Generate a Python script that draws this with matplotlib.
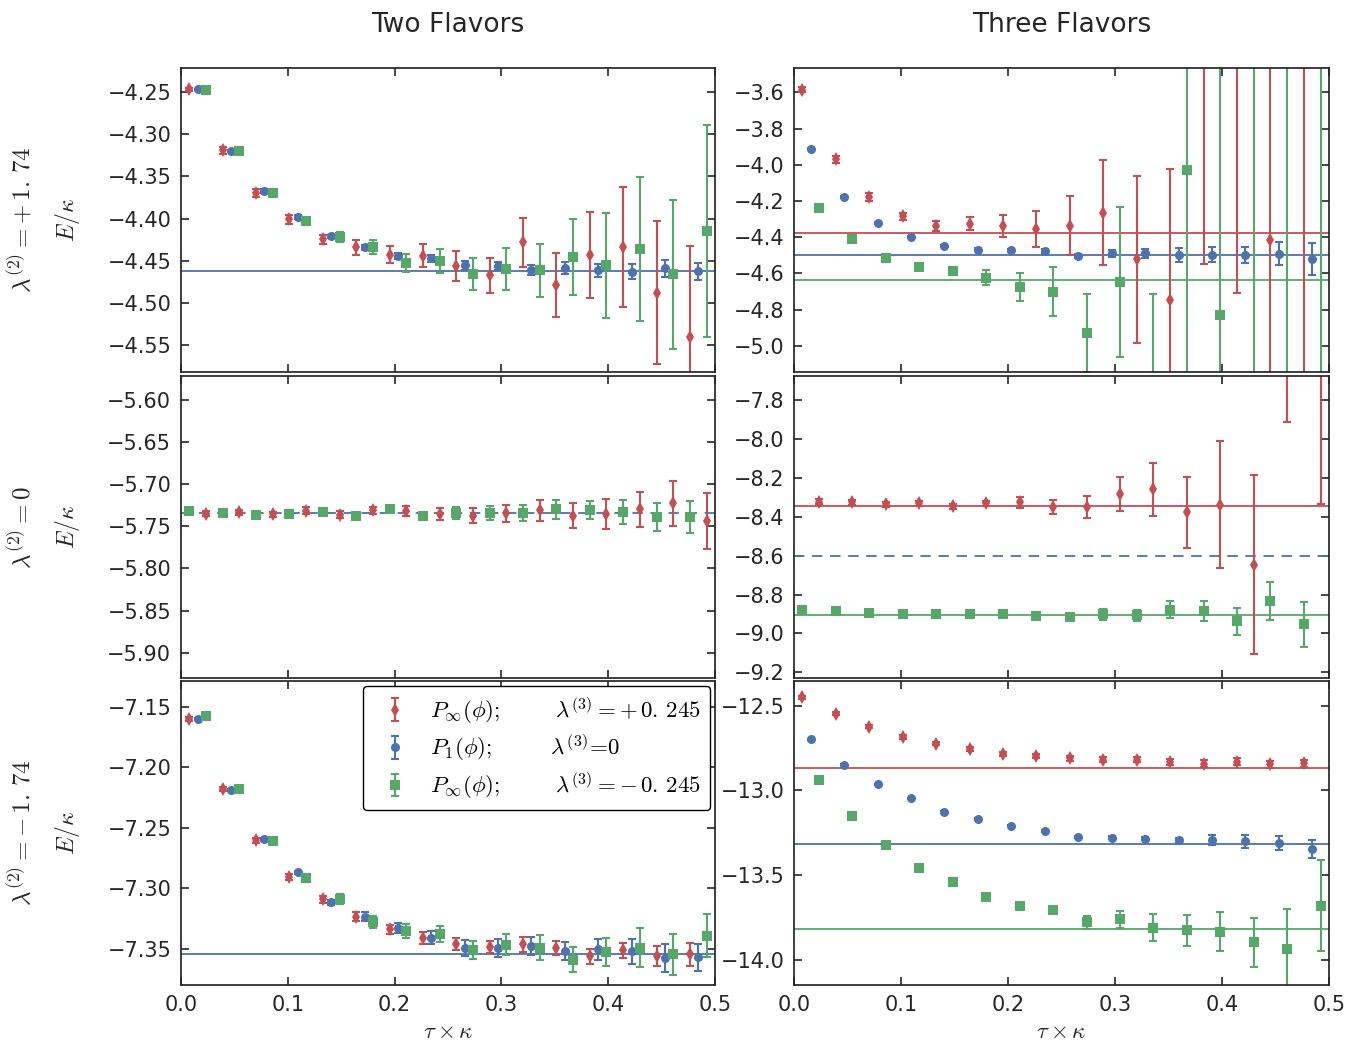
import numpy as np
import matplotlib
matplotlib.use('Agg')
import matplotlib.pyplot as plt

plt.rcParams['mathtext.fontset'] = 'cm'
plt.rcParams['font.family'] = ['DejaVu Sans']
plt.rcParams['lines.scale_dashes'] = False

RED = '#C44E52'
BLUE = '#4C72B0'
GREEN = '#55A868'
DARK = '#262626'

# ---------------- data ----------------
tau = [0.0, 0.03125, 0.0625, 0.09375, 0.125, 0.15625, 0.1875, 0.21875,
       0.25, 0.28125, 0.3125, 0.34375, 0.375, 0.40625, 0.4375, 0.46875]
shift_first = 0.0078125
shift_mid = 0.015625
shift_last = 0.0234375

col_titles = ['Two Flavors', 'Three Flavors']
row_labels = [r'$\lambda^{(2)} = +\,1.\,74$', r'$\lambda^{(2)} = 0$', r'$\lambda^{(2)} = -\,1.\,74$']
legend_labels = [r'$P_\infty(\phi);\qquad\;\;\lambda^{(3)} = +\,0.\,245$',
                 r'$P_1(\phi);\qquad\;\;\,\lambda^{(3)}\!=\!0$',
                 r'$P_\infty(\phi);\qquad\;\;\lambda^{(3)} = -\,0.\,245$']
x_ticks = [0.0, 0.1, 0.2, 0.3, 0.4, 0.5]

# two flavors, lambda2 = +1.74
tl_red_y = [-4.247, -4.319, -4.370, -4.401, -4.4245, -4.434, -4.443, -4.444,
            -4.456, -4.4675, -4.428, -4.479, -4.443, -4.434, -4.488, -4.540]
tl_red_e = [0.002, 0.004, 0.005, 0.005, 0.0055, 0.009, 0.010, 0.014,
            0.0175, 0.021, 0.029, 0.038, 0.051, 0.071, 0.085, 0.107]
tl_blue_y = [-4.247, -4.320, -4.3676, -4.398, -4.421, -4.434, -4.4446, -4.447,
             -4.4556, -4.4564, -4.4608, -4.4588, -4.4616, -4.4632, -4.4588, -4.4628]
tl_blue_e = [0.001, 0.001, 0.002, 0.002, 0.002, 0.003, 0.004, 0.004,
             0.005, 0.005, 0.006, 0.007, 0.008, 0.009, 0.010, 0.010]
tl_green_y = [-4.248, -4.3203, -4.370, -4.4032, -4.422, -4.434, -4.4529, -4.4505,
              -4.4663, -4.460, -4.4616, -4.446, -4.4556, -4.436, -4.4663, -4.415]
tl_green_e = [0.001, 0.002, 0.003, 0.004, 0.006, 0.0085, 0.011, 0.014,
              0.019, 0.025, 0.031, 0.045, 0.062, 0.085, 0.088, 0.126]
tl_fit_blue = -4.4624
tl_ylim = (-4.582, -4.2216)
tl_yticks = [-4.25, -4.30, -4.35, -4.40, -4.45, -4.50, -4.55]

# three flavors, lambda2 = +1.74
tr_red_y = [-3.585, -3.970, -4.178, -4.285, -4.340, -4.326, -4.340, -4.353,
            -4.337, -4.265, -4.521, -4.748, -3.30, -3.20, -4.416, -2.80]
tr_red_e = [0.015, 0.018, 0.02, 0.02, 0.028, 0.035, 0.06, 0.10,
            0.164, 0.289, 0.461, 0.727, 1.25, 1.51, 1.2, 3.0]
tr_blue_y = [-3.913, -4.178, -4.322, -4.397, -4.447, -4.469, -4.473, -4.477,
             -4.504, -4.490, -4.488, -4.499, -4.497, -4.499, -4.491, -4.521]
tr_blue_e = [0.005, 0.005, 0.005, 0.005, 0.006, 0.007, 0.008, 0.01,
             0.012, 0.02, 0.025, 0.04, 0.042, 0.045, 0.064, 0.088]
tr_green_y = [-4.237, -4.409, -4.514, -4.563, -4.587, -4.624, -4.674, -4.701,
              -4.928, -4.648, -5.35, -4.029, -4.829, -5.8, -3.0, -6.0]
tr_green_e = [0.005, 0.006, 0.008, 0.008, 0.012, 0.04, 0.077, 0.135,
              0.215, 0.415, 0.637, 1.3, 1.5, 2.5, 2.5, 3.0]
tr_fit_red = -4.377
tr_fit_blue = -4.497
tr_fit_green = -4.637
tr_ylim = (-5.145, -3.466)
tr_yticks = [-3.6, -3.8, -4.0, -4.2, -4.4, -4.6, -4.8, -5.0]

# two flavors, lambda2 = 0
ml_green_y = [-5.7322, -5.7342, -5.737, -5.7354, -5.7334, -5.7374, -5.7299, -5.7374,
              -5.7346, -5.7346, -5.7346, -5.730, -5.731, -5.733, -5.7393, -5.7393]
ml_green_e = [0.001, 0.001, 0.001, 0.001, 0.001, 0.0015, 0.002, 0.003,
              0.007, 0.008, 0.0095, 0.011, 0.011, 0.014, 0.0166, 0.0193]
ml_red_y = [-5.7354, -5.7334, -5.736, -5.7318, -5.7366, -5.7314, -5.7318, -5.7354,
            -5.7374, -5.7346, -5.7314, -5.7374, -5.7354, -5.7302, -5.7231, -5.744]
ml_red_e = [0.003, 0.003, 0.003, 0.004, 0.004, 0.004, 0.006, 0.007,
            0.009, 0.010, 0.012, 0.0146, 0.018, 0.0203, 0.0268, 0.033]
ml_fit_blue = -5.735
ml_ylim = (-5.930, -5.572)
ml_yticks = [-5.60, -5.65, -5.70, -5.75, -5.80, -5.85, -5.90]

# three flavors, lambda2 = 0
mr_green_y = [-8.878, -8.887, -8.897, -8.902, -8.902, -8.902, -8.902, -8.912,
              -8.914, -8.902, -8.907, -8.877, -8.883, -8.938, -8.835, -8.954]
mr_green_e = [0.004, 0.004, 0.004, 0.004, 0.004, 0.004, 0.005, 0.005,
              0.008, 0.027, 0.03, 0.042, 0.052, 0.071, 0.097, 0.117]
mr_red_y = [-8.322, -8.327, -8.337, -8.331, -8.346, -8.332, -8.327, -8.349,
            -8.349, -8.284, -8.259, -8.378, -8.339, -8.647, -7.50, -7.40]
mr_red_e = [0.012, 0.012, 0.012, 0.012, 0.012, 0.012, 0.027, 0.036,
            0.056, 0.089, 0.137, 0.184, 0.327, 0.4595, 0.415, 0.935]
mr_fit_red = -8.344
mr_fit_blue = -8.604
mr_fit_green = -8.906
mr_ylim = (-9.229, -7.677)
mr_yticks = [-7.8, -8.0, -8.2, -8.4, -8.6, -8.8, -9.0, -9.2]

# two flavors, lambda2 = -1.74
bl_red_y = [-7.1597, -7.2178, -7.2604, -7.2908, -7.3091, -7.3234, -7.334, -7.3409,
            -7.3464, -7.3483, -7.3464, -7.3492, -7.3564, -7.3514, -7.3561, -7.3547]
bl_red_e = [0.0015, 0.0015, 0.002, 0.0025, 0.003, 0.0037, 0.004, 0.005,
            0.005, 0.005, 0.006, 0.006, 0.0065, 0.0065, 0.008, 0.0095]
bl_blue_y = [-7.1597, -7.2186, -7.2595, -7.2869, -7.3116, -7.3234, -7.3328, -7.3409,
             -7.3492, -7.3494, -7.3478, -7.3517, -7.3506, -7.3522, -7.3578, -7.3572]
bl_blue_e = [0.001, 0.001, 0.001, 0.0015, 0.002, 0.004, 0.0045, 0.0055,
             0.0065, 0.0075, 0.0075, 0.0075, 0.009, 0.010, 0.0115, 0.011]
bl_green_y = [-7.1575, -7.2175, -7.2612, -7.2914, -7.3088, -7.3276, -7.3353, -7.3376,
              -7.3508, -7.3467, -7.3492, -7.3591, -7.3525, -7.3492, -7.3547, -7.3392]
bl_green_e = [0.001, 0.001, 0.0015, 0.002, 0.004, 0.005, 0.0055, 0.0065,
              0.0075, 0.0085, 0.0105, 0.0105, 0.0115, 0.016, 0.017, 0.018]
bl_fit_blue = -7.3547
bl_ylim = (-7.380, -7.1285)
bl_yticks = [-7.15, -7.20, -7.25, -7.30, -7.35]

# three flavors, lambda2 = -1.74
br_red_y = [-12.451, -12.547, -12.624, -12.684, -12.723, -12.755, -12.782, -12.798,
            -12.810, -12.818, -12.818, -12.830, -12.841, -12.830, -12.845, -12.839]
br_red_e = [0.01, 0.01, 0.01, 0.01, 0.01, 0.01, 0.012, 0.012,
            0.014, 0.016, 0.016, 0.018, 0.02, 0.02, 0.02, 0.02]
br_blue_y = [-12.697, -12.849, -12.964, -13.047, -13.126, -13.167, -13.207, -13.240,
             -13.272, -13.278, -13.284, -13.295, -13.293, -13.301, -13.311, -13.345]
br_blue_e = [0.003, 0.003, 0.003, 0.003, 0.003, 0.004, 0.005, 0.005,
             0.006, 0.008, 0.01, 0.015, 0.029, 0.037, 0.043, 0.055]
br_green_y = [-12.938, -13.151, -13.323, -13.455, -13.542, -13.631, -13.684, -13.704,
              -13.779, -13.761, -13.809, -13.826, -13.834, -13.897, -13.933, -13.680]
br_green_e = [0.004, 0.004, 0.005, 0.005, 0.006, 0.007, 0.008, 0.015,
              0.0375, 0.05, 0.079, 0.093, 0.116, 0.143, 0.231, 0.267]
br_fit_red = -12.865
br_fit_blue = -13.317
br_fit_green = -13.818
br_ylim = (-14.148, -12.354)
br_yticks = [-12.5, -13.0, -13.5, -14.0]

# ---------------- figure ----------------
fig = plt.figure(figsize=(13.6, 10.45), dpi=100)

col_x = [0.1331, 0.5838]
col_w = [0.3926, 0.3934]
row_y = [0.6440, 0.3512, 0.0574]
row_h = [0.2909, 0.2890, 0.2909]

axes = [[fig.add_axes([col_x[c], row_y[r], col_w[c], row_h[r]]) for c in range(2)] for r in range(3)]

tau_a = np.array(tau) + shift_first
tau_b = np.array(tau) + shift_mid
tau_c = np.array(tau) + shift_last

style = dict(capsize=3.2, capthick=1.5, elinewidth=1.5, linestyle='none')
mk = {RED: ('d', 7.5), BLUE: ('o', 6.5), GREEN: ('s', 6.5)}

def eb(ax, x, y, e, color):
    m, s = mk[color]
    cont = ax.errorbar(x, y, yerr=e, fmt=m, color=color, ms=s, **style)
    cont[0].set_markeredgewidth(0)
    return cont

def fit(ax, y, color, dashed=False):
    if dashed:
        ax.axhline(y, color=color, lw=1.3, dashes=(7.5, 5.5))
    else:
        ax.axhline(y, color=color, lw=1.3)

# top-left
ax = axes[0][0]
fit(ax, tl_fit_blue, BLUE)
eb(ax, tau_a, tl_red_y, tl_red_e, RED)
eb(ax, tau_b, tl_blue_y, tl_blue_e, BLUE)
eb(ax, tau_c, tl_green_y, tl_green_e, GREEN)
ax.set_ylim(*tl_ylim); ax.set_yticks(tl_yticks)

# top-right
ax = axes[0][1]
fit(ax, tr_fit_red, RED); fit(ax, tr_fit_blue, BLUE); fit(ax, tr_fit_green, GREEN)
eb(ax, tau_a, tr_red_y, tr_red_e, RED)
eb(ax, tau_b, tr_blue_y, tr_blue_e, BLUE)
eb(ax, tau_c, tr_green_y, tr_green_e, GREEN)
ax.set_ylim(*tr_ylim); ax.set_yticks(tr_yticks)

# middle-left
ax = axes[1][0]
fit(ax, ml_fit_blue, BLUE, dashed=True)
eb(ax, tau_a, ml_green_y, ml_green_e, GREEN)
eb(ax, tau_c, ml_red_y, ml_red_e, RED)
ax.set_ylim(*ml_ylim); ax.set_yticks(ml_yticks)

# middle-right
ax = axes[1][1]
fit(ax, mr_fit_red, RED); fit(ax, mr_fit_blue, BLUE, dashed=True); fit(ax, mr_fit_green, GREEN)
eb(ax, tau_a, mr_green_y, mr_green_e, GREEN)
eb(ax, tau_c, mr_red_y, mr_red_e, RED)
ax.set_ylim(*mr_ylim); ax.set_yticks(mr_yticks)

# bottom-left
ax = axes[2][0]
fit(ax, bl_fit_blue, BLUE)
h1 = eb(ax, tau_a, bl_red_y, bl_red_e, RED)
h2 = eb(ax, tau_b, bl_blue_y, bl_blue_e, BLUE)
h3 = eb(ax, tau_c, bl_green_y, bl_green_e, GREEN)
ax.set_ylim(*bl_ylim); ax.set_yticks(bl_yticks)
leg = ax.legend([h1, h2, h3], legend_labels, loc='upper right', fontsize=16.5,
                frameon=True, fancybox=True, framealpha=1, edgecolor='black',
                borderaxespad=0.2, labelspacing=0.3, handletextpad=0.55,
                borderpad=0.4, handlelength=2.0)
leg.get_frame().set_linewidth(1.0)

# bottom-right
ax = axes[2][1]
fit(ax, br_fit_red, RED); fit(ax, br_fit_blue, BLUE); fit(ax, br_fit_green, GREEN)
eb(ax, tau_a, br_red_y, br_red_e, RED)
eb(ax, tau_b, br_blue_y, br_blue_e, BLUE)
eb(ax, tau_c, br_green_y, br_green_e, GREEN)
ax.set_ylim(*br_ylim); ax.set_yticks(br_yticks)

for r in range(3):
    for c in range(2):
        ax = axes[r][c]
        ax.set_xlim(0, 0.5)
        ax.set_xticks(x_ticks)
        ax.tick_params(direction='in', length=6, width=1.2, top=True, right=True,
                       labelsize=15, colors=DARK, pad=7)
        for sp in ax.spines.values():
            sp.set_color(DARK)
            sp.set_linewidth(1.25)
        if r < 2:
            ax.set_xticklabels([])
        else:
            ax.set_xlabel(r'$\tau\times\kappa$', fontsize=16.5, color=DARK, labelpad=4)
        if c == 0:
            ax.set_ylabel(r'$E/\kappa$', fontsize=17, color=DARK)
            ax.yaxis.set_label_coords(-0.185, 0.5)
            ax.text(-0.30, 0.5, row_labels[r], transform=ax.transAxes, rotation=90,
                    ha='center', va='center', fontsize=18, color=DARK)
        if r == 0:
            ax.set_title(col_titles[c], fontsize=19, color=DARK, pad=26)

fig.savefig('out.png', dpi=100)
